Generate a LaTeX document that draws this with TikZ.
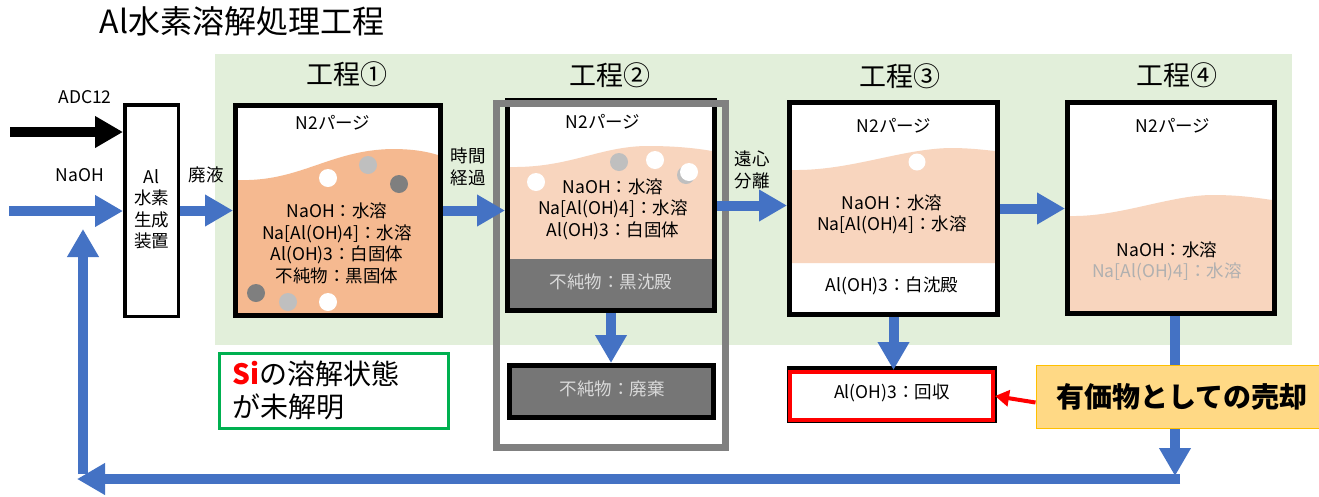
\documentclass[tikz,border=0pt]{standalone}
\usepackage{fontspec}
\setmainfont{Noto Sans CJK JP}
\usetikzlibrary{arrows.meta,calc}
\definecolor{bluec}{HTML}{4472C4}
\definecolor{greenbg}{HTML}{E2EFDA}
\definecolor{orangeliq}{HTML}{F5B990}
\definecolor{peach}{HTML}{F8D5BE}
\definecolor{dgray}{HTML}{7F7F7F}
\definecolor{lgray}{HTML}{BFBFBF}
\definecolor{sedim}{HTML}{767676}
\definecolor{sedtxt}{HTML}{D9D9D9}
\definecolor{framegray}{HTML}{808080}
\definecolor{notegreen}{HTML}{00B050}
\definecolor{yelfill}{HTML}{FFD985}
\definecolor{yeldraw}{HTML}{FFC000}
\definecolor{fadetxt}{HTML}{B0B0B0}
\begin{document}
\begin{tikzpicture}[x=1pt,y=-1pt,
  vessel/.style={draw=black, line width=5pt, inner sep=0pt},
  bluearr/.style={draw=bluec, line width=10pt, -{Triangle[length=28pt,width=30pt]}},
  blackarr/.style={draw=black, line width=10pt, -{Triangle[length=28pt,width=30pt]}},
  redarr/.style={draw=red, line width=4pt, -{Triangle[length=14pt,width=16pt]}},
  txt/.style={font=\fontsize{17.5pt}{21.5pt}\selectfont, align=center, inner sep=0pt},
  steplbl/.style={font=\fontsize{27pt}{32pt}\selectfont, inner sep=0pt},
  dot/.style={radius=9pt}]
\useasboundingbox (0,0) rectangle (1319,496);
\fill[white] (0,0) rectangle (1319,496);

% title
\node[font=\fontsize{32pt}{38pt}\selectfont, inner sep=0pt] (title) at (242,21) {Al水素溶解処理工程};

% green background
\fill[greenbg] (215,54) rectangle (1292,345);

% step labels
\node[steplbl] (s1) at (347,74) {工程①};
\node[steplbl] (s2) at (610,75) {工程②};
\node[steplbl] (s3) at (900,76) {工程③};
\node[steplbl] (s4) at (1177,75) {工程④};

% generator
\node[vessel, line width=3.5pt, fill=white, minimum width=53.5pt, minimum height=211.5pt] (gen) at (151.5,210.5) {};
\node[txt] (gentxt) at (151.5,209.5) {Al\\水素\\生成\\装置};

% box 1
\fill[white] (235.5,105.5) rectangle (440.5,315.5);
\fill[orangeliq] (238,180) .. controls (300,182) and (330,150) .. (392,149) .. controls (415,149) and (428,152) .. (438,155) -- (438,313) -- (238,313) -- cycle;
\fill[white] (328,178) circle[dot];
\fill[lgray] (368,165) circle[dot];
\fill[dgray] (399,184) circle[dot];
\fill[dgray] (256,293) circle[dot];
\fill[lgray] (288,302) circle[dot];
\fill[white] (328,302) circle[dot];
\node[vessel, minimum width=205pt, minimum height=210pt] (box1) at (338,210.5) {};
\node[txt] (n2a) at (333,123) {N2パージ};
\node[txt] (t1) at (337,243.5) {NaOH：水溶\\Na[Al(OH)4]：水溶\\Al(OH)3：白固体\\不純物：黒固体};

% box 2
\fill[white] (507.5,100.5) rectangle (714.5,310.5);
\fill[peach] (510,167) .. controls (570,168) and (600,146) .. (648,146) .. controls (680,146) and (700,149) .. (712,151) -- (712,259) -- (510,259) -- cycle;
\fill[sedim] (510,259) rectangle (712,308);
\fill[white] (536,182) circle[dot];
\fill[lgray] (619,162) circle[dot];
\fill[white] (655,160) circle[dot];
\fill[lgray] (686,175) circle[dot];
\fill[white] (689,172) circle[dot];
\node[vessel, minimum width=207pt, minimum height=210pt] (box2) at (611,205.5) {};
\node[txt] (n2b) at (603,122) {N2パージ};
\node[txt] (t2) at (613,209) {NaOH：水溶\\Na[Al(OH)4]：水溶\\Al(OH)3：白固体};
\node[txt, text=sedtxt] (t2s) at (611,282) {不純物：黒沈殿};

% waste box
\node[vessel, fill=sedim, minimum width=204pt, minimum height=52pt] (waste) at (611.5,391.5) {};
\node[txt, text=sedtxt] (wtxt) at (612,389) {不純物：廃棄};

% gray frame
\node[draw=framegray, line width=7pt, inner sep=0pt, minimum width=229pt, minimum height=344pt] (frame) at (611,275.5) {};

% box 3
\fill[white] (789.5,102.5) rectangle (997.5,314.5);
\fill[peach] (792,170) .. controls (850,171) and (900,149) .. (950,148) .. controls (970,148) and (985,150) .. (995,151) -- (995,263) -- (792,263) -- cycle;
\fill[white] (917,162) circle[radius=8.5pt];
\node[vessel, minimum width=208pt, minimum height=212pt] (box3) at (893.5,208.5) {};
\node[txt] (n2c) at (894,126) {N2パージ};
\node[txt] (t3) at (892,214.5) {NaOH：水溶\\Na[Al(OH)4]：水溶};
\node[txt] (t3s) at (892,286) {Al(OH)3：白沈殿};

% recovery box
\fill[black] (787,366) rectangle (997,423);
\node[draw=red, line width=4pt, fill=white, inner sep=0pt, minimum width=203pt, minimum height=48pt] (rec) at (891.5,396) {};
\node[txt] (rtxt) at (892,393) {Al(OH)3：回収};

% box 4
\fill[white] (1067.5,102.5) rectangle (1274.5,313.5);
\fill[peach] (1070,216) .. controls (1120,217) and (1170,195) .. (1213,195) .. controls (1240,195) and (1258,198) .. (1272,200) -- (1272,311) -- (1070,311) -- cycle;
\node[vessel, minimum width=207pt, minimum height=211pt] (box4) at (1171,208) {};
\node[txt] (n2d) at (1173,126) {N2パージ};
\node[txt] (t4) at (1167,261.5) {NaOH：水溶\\\textcolor{fadetxt}{Na[Al(OH)4]：水溶}};

% note box
\node[draw=notegreen, line width=3pt, fill=white, inner sep=0pt, minimum width=229pt, minimum height=75pt] (note) at (334,391) {};
\node[font=\fontsize{28pt}{33pt}\selectfont, align=left, inner sep=0pt, anchor=west] (notetxt) at (232,390) {\textcolor{red}{\textbf{Si}}の溶解状態\\が未解明};

% labels
\node[txt] (adc) at (85,97) {ADC12};
\node[txt] (naoh) at (80,175) {NaOH};
\node[txt] (hai) at (206,175) {廃液};
\node[txt] (jikan) at (468,167) {時間\\経過};
\node[txt] (enshin) at (752,170) {遠心\\分離};

% coordinates
\coordinate (adcstart) at (10,132);
\coordinate (naohstart) at (9,211);
\coordinate (br) at (1175,476);
\coordinate (brh) at (1180,479);
\coordinate (bl) at (77,479);
\coordinate (vb) at (83,474);
\coordinate (vt) at (83,229);

% vertical line from box4 (behind yellow box)
\draw[bluearr] (box4.south -| br) -- (br);

% yellow box
\node[fill=yelfill, draw=yeldraw, line width=1pt, inner sep=0pt, minimum width=294pt, minimum height=63pt] (yel) at (1183,396.5) {};
\node[font=\bfseries\fontsize{28pt}{32pt}\selectfont, inner sep=0pt] (yeltxt) at (1182,397) {有価物としての売却};

% arrows
\draw[blackarr] (adcstart) -- (adcstart -| gen.west);
\draw[bluearr] (naohstart) -- (naohstart -| gen.west);
\draw[bluearr] (gen.east) -- (box1.west);
\draw[bluearr] (box1.east) -- (box1.east -| box2.west);
\draw[bluearr] (box2.east) -- (box2.east -| box3.west);
\draw[bluearr] (box3.east) -- (box3.east -| box4.west);
\draw[bluearr] (box2.south) -- (box2.south |- waste.north);
\draw[bluearr] (box3.south) -- (box3.south |- rec.north);
\draw[bluearr] (brh) -- (bl);
\draw[bluearr] (vb) -- (vt);
\draw[redarr] ($(yel.west)+(0,6)$) -- (rec.east);
\end{tikzpicture}
\end{document}
